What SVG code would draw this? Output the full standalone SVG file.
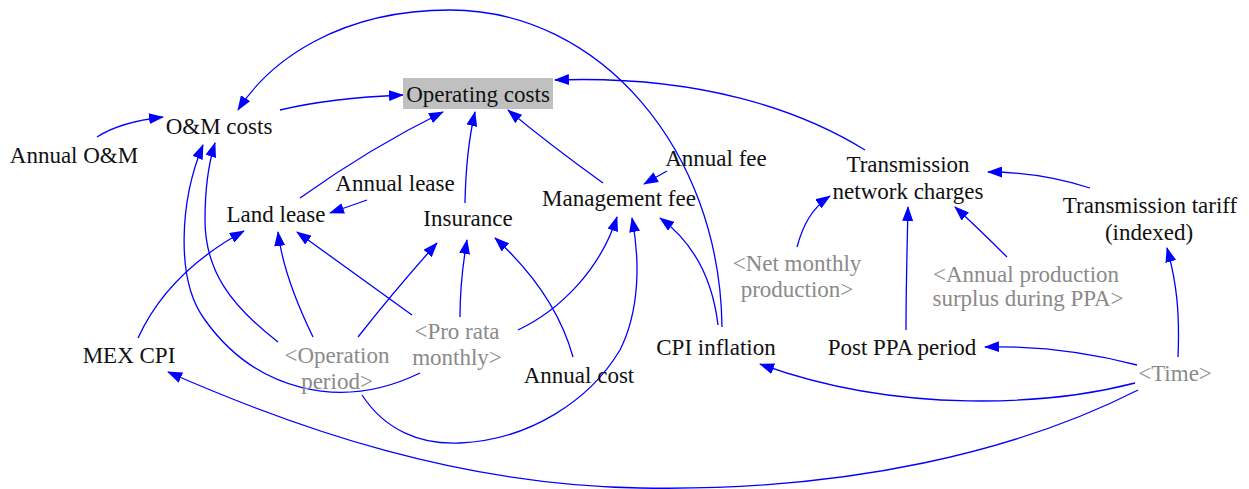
<svg xmlns="http://www.w3.org/2000/svg" width="1249" height="489" viewBox="0 0 1249 489" font-family="'Liberation Serif', 'DejaVu Serif', serif">
<style>
text{font-family:'Liberation Serif','DejaVu Serif',serif;font-size:23px;text-anchor:middle;fill:#111}
.g{fill:#8a8a8a}
.c path{fill:none;stroke:#0000ff;stroke-width:1.3;marker-end:url(#ah)}
</style>
<defs>
<marker id="ah" viewBox="0 0 15 11" refX="14" refY="5.5" markerWidth="15" markerHeight="11" markerUnits="userSpaceOnUse" orient="auto">
<path d="M0,0 L15,5.5 L0,11 z" fill="#0000ff"/>
</marker>
</defs>
<rect width="1249" height="489" fill="#fff"/>
<g id="connectors" class="c">
<path d="M97,137 Q120,122 163,117"/>
<path d="M280,110 Q330,98 403,95"/>
<path d="M722,327 C720,150 600,10 450,10 C340,10 270,60 238,110"/>
<path d="M865,150 C800,110 700,75 555,80"/>
<path d="M300,198 Q370,148 443,112"/>
<path d="M465,203 Q466,150 475,112"/>
<path d="M603,183 Q550,145 508,110"/>
<path d="M667,171 L644,184"/>
<path d="M367,200 L330,213"/>
<path d="M138,338 C160,290 200,255 244,231"/>
<path d="M420,373 C340,412 255,390 205,320 C175,280 180,200 203,145"/>
<path d="M278,342 C230,305 205,270 205,220 C205,190 208,165 215,143"/>
<path d="M313,337 C295,300 282,265 278,232"/>
<path d="M358,337 Q395,290 437,243"/>
<path d="M412,315 Q350,270 297,232"/>
<path d="M460,317 Q460,280 467,240"/>
<path d="M573,357 C560,310 530,270 495,238"/>
<path d="M518,330 C560,310 600,270 617,217"/>
<path d="M362,395 C385,430 420,445 460,443 C530,440 590,400 620,350 C640,310 640,260 632,218"/>
<path d="M718,325 C712,275 690,240 660,218"/>
<path d="M797,247 C803,225 812,208 830,196"/>
<path d="M906,330 C906,290 907,250 908,207"/>
<path d="M1007,257 Q980,230 955,207"/>
<path d="M1090,188 Q1040,172 988,172"/>
<path d="M1178,357 C1180,310 1176,280 1167,248"/>
<path d="M1137,365 Q1060,345 985,347"/>
<path d="M1135,383 C1050,405 900,415 760,364"/>
<path d="M1138,390 C1020,450 850,492 640,488 C460,485 300,430 168,372"/>
</g>
<g id="annual-om"><text x="74" y="163">Annual O&amp;M</text></g>
<g id="om-costs"><text x="219" y="134">O&amp;M costs</text></g>
<g id="operating-costs"><rect x="403" y="78" width="150" height="31" fill="#c0c0c0"/><text x="478" y="102">Operating costs</text></g>
<g id="annual-lease"><text x="395" y="191">Annual lease</text></g>
<g id="land-lease"><text x="276" y="222">Land lease</text></g>
<g id="insurance"><text x="468" y="226">Insurance</text></g>
<g id="management-fee"><text x="619" y="206">Management fee</text></g>
<g id="annual-fee"><text x="716" y="166">Annual fee</text></g>
<g id="transmission-network-charges"><text x="908" y="172">Transmission</text><text x="908" y="199">network charges</text></g>
<g id="transmission-tariff"><text x="1150" y="213">Transmission tariff</text><text x="1149" y="240">(indexed)</text></g>
<g id="net-monthly-production"><text class="g" x="797" y="271">&lt;Net monthly</text><text class="g" x="797" y="297">production&gt;</text></g>
<g id="annual-production-surplus"><text class="g" x="1026" y="282">&lt;Annual production</text><text class="g" x="1028" y="306">surplus during PPA&gt;</text></g>
<g id="mex-cpi"><text x="129" y="363">MEX CPI</text></g>
<g id="operation-period"><text class="g" x="337" y="363">&lt;Operation</text><text class="g" x="337" y="389">period&gt;</text></g>
<g id="pro-rata-monthly"><text class="g" x="457" y="339">&lt;Pro rata</text><text class="g" x="457" y="365">monthly&gt;</text></g>
<g id="annual-cost"><text x="579" y="383">Annual cost</text></g>
<g id="cpi-inflation"><text x="716" y="355">CPI inflation</text></g>
<g id="post-ppa-period"><text x="902" y="355">Post PPA period</text></g>
<g id="time"><text class="g" x="1175" y="381">&lt;Time&gt;</text></g>
</svg>
